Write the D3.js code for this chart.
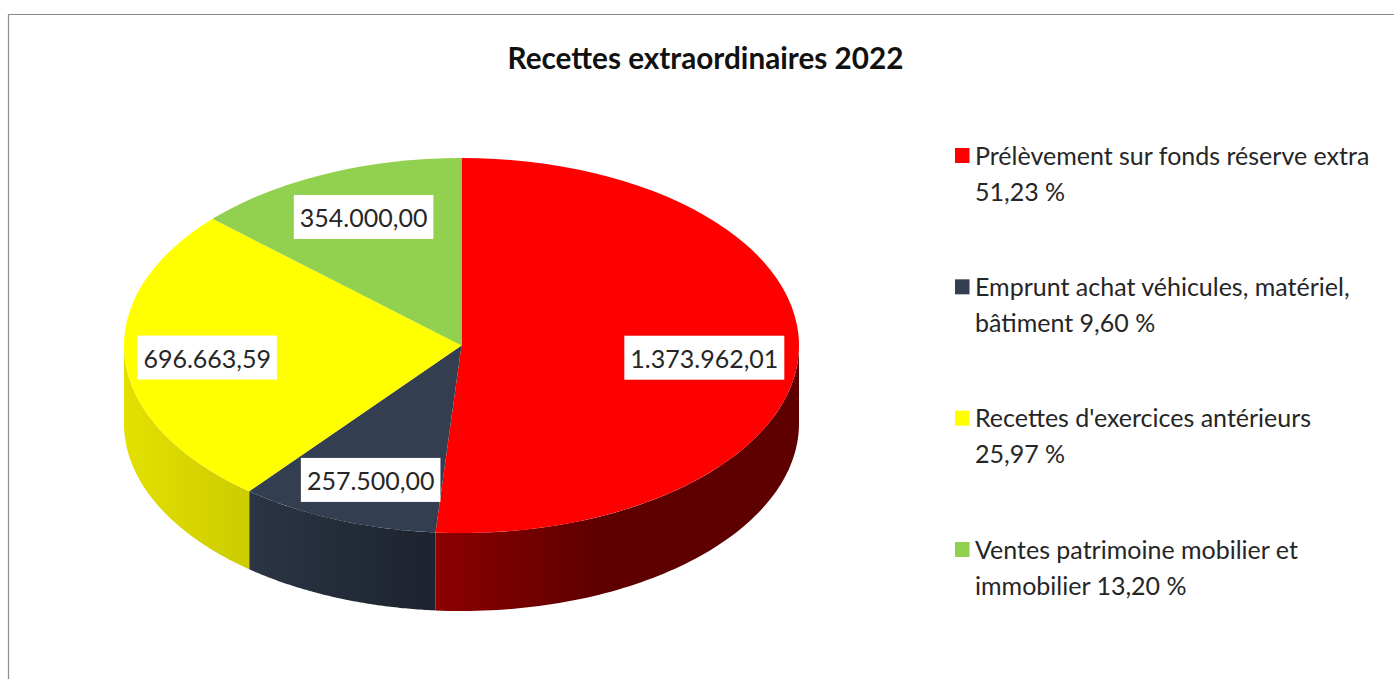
<!DOCTYPE html>
<html>
<head>
<meta charset="utf-8">
<script src="https://cdn.jsdelivr.net/npm/d3@7"></script>
<style>
html, body { margin: 0; padding: 0; background: #fff; overflow: hidden; }
text { font-family: Lato, "Open Sans", sans-serif; fill: #262626; }
</style>
</head>
<body>
<div id="chart-area"></div>
<script>
var categories = ["Prélèvement sur fonds réserve extra", "Emprunt achat véhicules, matériel, bâtiment", "Recettes d'exercices antérieurs", "Ventes patrimoine mobilier et immobilier"];
var values = [1373962.01, 257500.00, 696663.59, 354000.00];
var valueLabels = ["1.373.962,01", "257.500,00", "696.663,59", "354.000,00"];
var legendLines = [
    ["Prélèvement sur fonds réserve extra", "51,23 %"],
    ["Emprunt achat véhicules, matériel,", "bâtiment 9,60 %"],
    ["Recettes d'exercices antérieurs", "25,97 %"],
    ["Ventes patrimoine mobilier et", "immobilier 13,20 %"]
];
var colors = ["#ff0000", "#333f50", "#ffff00", "#92d050"];

var width = 1394;
var height = 679;
var cx = 461.5;
var cy = 345.5;
var rx = 337.5;
var ry = 187.5;
var depth = 78;

// side wall shading, left to right
var sideStops = [
    [{ o: 0, c: "#8c0000" }, { o: 0.45, c: "#5e0000" }, { o: 1, c: "#5e0000" }],
    [{ o: 0, c: "#2b3545" }, { o: 1, c: "#1d232e" }],
    [{ o: 0, c: "#e3e000" }, { o: 1, c: "#cccc00" }],
    [{ o: 0, c: "#92d050" }, { o: 1, c: "#92d050" }]
];

// small shifts from the computed label spot
var labelNudge = [[0, 7], [-1, 9], [-12, 2], [0, -5]];

var svg = d3.select("#chart-area").append("svg")
    .attr("width", width)
    .attr("height", height)
    .style("display", "block");

// frame
svg.append("path")
    .attr("d", `M8.5,${height} V14.5 H${width}`)
    .attr("fill", "none")
    .attr("stroke", "#8c8c8c")
    .attr("stroke-width", 1.2);

svg.append("text")
    .attr("x", 705.5)
    .attr("y", 69)
    .attr("text-anchor", "middle")
    .attr("font-size", 29.7)
    .attr("font-weight", 700)
    .style("fill", "#111")
    .text("Recettes extraordinaires 2022");

var pie = d3.pie().sort(null).value(d => d);
var arcs = pie(values);

// angle in radians clockwise from the top, as d3.pie gives it
var ex = a => cx + rx * Math.sin(a);
var ey = a => cy - ry * Math.cos(a);

var defs = svg.append("defs");
var sides = svg.append("g");

arcs.forEach((d, i) => {
    // only the front half of the rim can be seen
    var a0 = Math.max(d.startAngle, Math.PI / 2);
    var a1 = Math.min(d.endAngle, 3 * Math.PI / 2);
    if (a1 <= a0) return;

    var steps = d3.range(0, 81).map(k => d3.interpolateNumber(a0, a1)(k / 80));
    var xs = steps.map(ex);

    var grad = defs.append("linearGradient")
        .attr("id", `side-${i}`)
        .attr("gradientUnits", "userSpaceOnUse")
        .attr("x1", d3.min(xs))
        .attr("x2", d3.max(xs))
        .attr("y1", 0)
        .attr("y2", 0);
    grad.selectAll("stop")
        .data(sideStops[i])
        .enter().append("stop")
        .attr("offset", s => s.o)
        .attr("stop-color", s => s.c);

    var side = d3.area()
        .x(a => ex(a))
        .y0(a => ey(a))
        .y1(a => ey(a) + depth);

    sides.append("path")
        .attr("d", side(steps))
        .attr("fill", `url(#side-${i})`);
});

// top face: a normal pie squashed into an ellipse
var arc = d3.arc().innerRadius(0).outerRadius(rx);

svg.append("g")
    .attr("transform", `translate(${cx}, ${cy}) scale(1, ${ry / rx})`)
    .selectAll("path")
    .data(arcs)
    .enter().append("path")
    .attr("d", arc)
    .attr("fill", (d, i) => colors[i]);

// value labels on white boxes
var labelFrac = 0.72;
var labels = svg.append("g")
    .selectAll("g")
    .data(arcs)
    .enter().append("g")
    .attr("transform", (d, i) => {
        var mid = (d.startAngle + d.endAngle) / 2;
        var lx = cx + rx * labelFrac * Math.sin(mid) + labelNudge[i][0];
        var ly = cy - ry * labelFrac * Math.cos(mid) + labelNudge[i][1];
        return `translate(${lx}, ${ly})`;
    });

labels.append("text")
    .attr("text-anchor", "middle")
    .attr("y", 10.5)
    .attr("font-size", 25)
    .text((d, i) => valueLabels[i]);

labels.insert("rect", "text")
    .each(function () {
        var w = this.parentNode.querySelector("text").getBBox().width + 12;
        d3.select(this)
            .attr("x", -w / 2)
            .attr("y", -22)
            .attr("width", w)
            .attr("height", 44)
            .attr("fill", "#fff");
    });

// legend
var legendY = d3.scalePoint()
    .domain(categories)
    .range([0, 394]);

var legend = svg.append("g")
    .attr("transform", "translate(955, 164.5)")
    .selectAll("g")
    .data(categories)
    .enter().append("g")
    .attr("transform", d => `translate(0, ${legendY(d)})`);

legend.append("rect")
    .attr("x", 0)
    .attr("y", -16.5)
    .attr("width", 14.5)
    .attr("height", 15)
    .attr("fill", (d, i) => colors[i]);

legend.each(function (d, i) {
    d3.select(this).selectAll("text")
        .data(legendLines[i])
        .enter().append("text")
        .attr("x", 20)
        .attr("y", (t, k) => k * 36)
        .attr("font-size", 25)
        .text(t => t);
});
</script>
</body>
</html>
